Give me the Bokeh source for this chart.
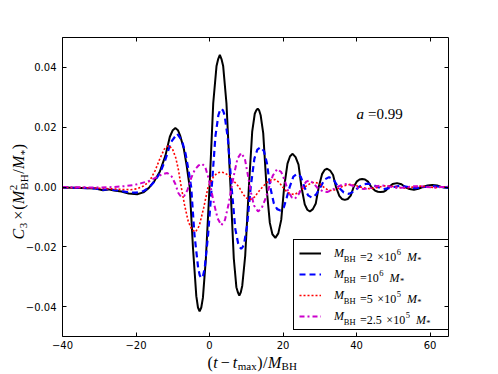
import math
from bokeh.plotting import figure
from bokeh.models import FixedTicker, LinearAxis, Label, Legend, LegendItem, Range1d
from bokeh.embed import file_html
from bokeh.resources import INLINE

# ---------------- data ----------------
t_black = [-40, -35, -31, -29, -27.5, -26, -24, -22, -19.7, -18, -16.5, -15, -13.5, -12, -10.8, -10.0,
           -9.3, -8.6, -8, -7, -6.2, -5.4, -4.5, -3.6, -3.15, -2.7, -2.25, -1.8, -1, 0, 1, 1.9, 2.35, 2.8,
           3.25, 3.7, 4.6, 5.7, 6.6, 7.3, 7.7, 8.1, 8.5, 8.9, 9.7, 10.7, 11.6, 12.3, 12.7, 13.1, 13.5, 13.9,
           14.6, 15.5, 16.4, 17.1, 17.9, 18.7, 19.5, 20.3, 21.2,
           21.9, 22.6, 23.4, 24.2, 25.0, 25.9, 26.6, 27.3, 28.1, 28.9, 29.7, 30.6, 31.3, 32.0, 32.8, 33.6,
           34.4, 35.3, 36.0, 36.8, 37.6, 38.4, 39.2, 40.1, 40.8, 41.5, 42.3, 43.1, 44.0, 45.0, 45.8, 46.5,
           47.3, 48.0, 48.8, 49.8, 51.0, 52.2, 53.2, 54.4, 55.6, 56.8, 58.0, 59.3, 60.6, 61.9, 63.0, 64.0, 65]
c3_black = [-0.0002, -0.0003, -0.0005, -0.0011, -0.0008, -0.0012, -0.0015, -0.0022, -0.0024, -0.0018,
            -0.0003, 0.0020, 0.0052, 0.0105, 0.0168, 0.0190,
            0.0197, 0.0190, 0.0172, 0.0128, 0.0070, 0.0, -0.0205, -0.0365, -0.0403, -0.0416, -0.0403,
            -0.0370, -0.0240, 0.0, 0.0280, 0.0405, 0.0428, 0.0442,
            0.0428, 0.0405, 0.0280, 0.0, -0.0240, -0.0335, -0.0352, -0.0363, -0.0352, -0.0330, -0.0230,
            0.0, 0.0185, 0.0245, 0.0256, 0.0262, 0.0256, 0.0240,
            0.0180, 0.0, -0.0120, -0.0158, -0.0170, -0.0155, -0.0110, 0.0, 0.0078,
            0.0103, 0.0111, 0.0100, 0.0075, 0.0, -0.0058, -0.0076, -0.0082, -0.0074, -0.0055, 0.0, 0.0043,
            0.0057, 0.0061, 0.0055, 0.0040,
            0.0, -0.0030, -0.0040, -0.0043, -0.0040, -0.0029, 0.0, 0.0019, 0.0025, 0.0027, 0.0025, 0.0018,
            0.0, -0.0012, -0.0016, -0.0017,
            -0.0016, -0.0011, 0.0, 0.0010, 0.0013, 0.0009, 0.0, -0.0007, -0.0009, -0.0006, 0.0, 0.0005,
            0.0007, 0.0005, 0.0, -0.0002, -0.0003]

t_blue = [-40, -35, -31, -29, -27.5, -26, -24, -22, -20, -18, -16.5, -15, -13.5, -12, -10.5, -8.8, -7.5,
          -6.5, -5.7, -5.0, -4.1, -3.1, -2.65, -2.2, -1.75, -1.3, -0.4, 0.6, 1.6, 2.4, 2.8, 3.25, 3.7, 4.1,
          5.0, 6.0, 7.0, 7.8, 8.2, 8.6, 9.0, 9.4, 10.2, 11.2, 12.2, 13.0, 13.9, 14.8, 15.6, 16.5, 17.5,
          18.4, 19.3, 20.2, 21.0, 21.8, 22.8,
          23.8, 24.8, 25.8, 26.8, 27.9, 29.0, 30.2, 31.3, 32.5, 33.7, 35.0, 36.5, 37.9, 39.3, 40.6, 41.9,
          43.2, 44.5, 45.7, 47.3, 48.8, 50.2, 52, 54, 56, 58.5, 61, 63, 65]
c3_blue = [-0.0002, -0.0003, -0.0005, -0.0010, -0.0007, -0.0010, -0.0013, -0.0018, -0.0019, -0.0014,
           -0.0002, 0.0018, 0.0046, 0.0092, 0.0150, 0.0178, 0.0155,
           0.0110, 0.0055, 0.0, -0.0160, -0.0270, -0.0296, -0.0305, -0.0296, -0.0270, -0.0160, 0.0,
           0.0170, 0.0240, 0.0255, 0.0262, 0.0255, 0.0240,
           0.0160, 0.0, -0.0140, -0.0190, -0.0201, -0.0207, -0.0201, -0.0190, -0.0130, 0.0, 0.0095,
           0.0125, 0.0133, 0.0120, 0.0080, 0.0, -0.0055,
           -0.0074, -0.0079, -0.0068, -0.0035, 0.0, 0.0035,
           0.0044, 0.0035, 0.0, -0.0028, -0.0036, -0.0025, 0.0, 0.0025, 0.0033, 0.0025, 0.0, -0.0018,
           -0.0023, -0.0015, 0.0, 0.0009,
           0.0011, 0.0007, 0.0, -0.0007, -0.0004, 0.0, 0.0005, 0.0, -0.0004, 0.0, 0.0003, 0.0, -0.0002]

t_red = [-40, -35, -30, -27, -24, -21.5, -19.7, -18, -16.3, -14.8, -13.5, -12.3, -11.2, -10.1, -9.2, -8.5,
         -7.7, -6.8, -5.8, -4.8, -3.8, -2.8, -1.6, -0.4, 1.0, 2.0, 3.0, 4.2, 5.4, 6.7, 8.0, 9.2, 10.2, 11.1,
         12.2, 13.3, 14.4, 15.6, 16.8, 17.8, 18.9, 19.9, 21.0, 22.0, 23.1, 24.3, 25.5, 26.6, 27.8, 28.8,
         30.0, 31.0, 32.2, 33.5, 35.0, 36.5, 38.3, 40.0, 41.5, 43.5, 45.5, 47.5, 49.5, 51.5, 53.5, 55.5,
         57.5, 59.5, 61.5, 63.5, 65]
c3_red = [-0.0002, -0.0002, -0.0004, -0.0006, -0.0008, -0.0009, -0.0006, 0.0003, 0.0020, 0.0055, 0.0095,
          0.0127, 0.0139, 0.0128, 0.0098, 0.0060, 0.0, -0.0060, -0.0115, -0.0143, -0.0150, -0.0130,
          -0.0070, 0.0, 0.0033, 0.0046, 0.0050, 0.0047, 0.0036, 0.0018, 0.0, -0.0026, -0.0038, -0.0042,
          -0.0034, -0.0016, 0.0, 0.0015, 0.0024, 0.0025, 0.0016, 0.0, -0.0016, -0.0023, -0.0025, -0.0017,
          -0.0004, 0.0006, 0.0014, 0.0016, 0.0010, 0.0, -0.0010, -0.0012, -0.0005, 0.0004, 0.0009, 0.0004,
          -0.0002, -0.0006, -0.0002, 0.0004, 0.0003, -0.0002, -0.0004, 0.0, 0.0003, 0.0, -0.0002, 0.0, 0.0001]

t_mag = [-40, -35, -30, -26, -23, -20.5, -18.8, -16.5, -14.5, -12.8, -11.5, -10.3, -9.3, -8.5, -7.8, -6.9,
         -6.0, -5.0, -4.0, -3.0, -2.1, -1.2, -0.4, 0.3, 1.2, 2.2, 3.2, 4.2, 5.2, 6.0, 6.8, 7.6, 8.6, 9.6,
         10.5, 11.2, 12.1, 13.2, 14.2, 15.2, 16.2, 17.2, 18.4, 19.5, 20.5, 21.4, 22.4, 23.2, 24.2, 25.3,
         26.3, 27.2, 28.3, 29.5, 30.8, 32.0, 33.3, 34.8, 36.2, 37.5, 39, 40.5, 42, 43.5, 45, 47, 49, 51,
         53, 55, 57, 59, 61, 63, 65]
c3_mag = [0.0, -0.0001, -0.0002, 0.0, 0.0003, 0.0007, 0.0012, 0.0020, 0.0032, 0.0043, 0.0047, 0.0035,
          0.0010, -0.0020, -0.0032, -0.0030, -0.0010, 0.0030, 0.0058, 0.0072, 0.0078, 0.0068, 0.0035, 0.0,
          -0.0055, -0.0105, -0.0128, -0.0110, -0.0056, 0.0, 0.0050, 0.0095, 0.0114, 0.0095, 0.0035,
          -0.0015, -0.0062, -0.0082, -0.0070, -0.0040, 0.0, 0.0038, 0.0060, 0.0050, 0.0020, -0.0015,
          -0.0035, -0.0040, -0.0025, 0.0, 0.0018, 0.0022, 0.0012, -0.0005, -0.0014, -0.0017, -0.0010, 0.0,
          0.0008, 0.0010, 0.0004, -0.0004, -0.0007, -0.0004, 0.0002, 0.0005, 0.0002, -0.0003, -0.0002,
          0.0002, 0.0003, 0.0, -0.0002, 0.0, 0.0001]

x_ticks = [-40, -20, 0, 20, 40, 60]
x_tick_labels = ["\u221240", "\u221220", "0", "20", "40", "60"]
y_ticks = [-0.04, -0.02, 0.0, 0.02, 0.04]
y_tick_labels = ["\u22120.04", "\u22120.02", "0.00", "0.02", "0.04"]
X_MIN, X_MAX = -40, 65
Y_MIN, Y_MAX = -0.05, 0.05

# ---------------- layout: the drawn box sits inside a full-canvas frame ----------------
W, H = 490, 372
PX_L, PX_R, PY_T, PY_B = 62, 448, 37, 336     # pixel edges of the visible axes box
kx = (PX_R - PX_L) / (X_MAX - X_MIN)
ky = (PY_B - PY_T) / (Y_MAX - Y_MIN)
xr = Range1d(X_MIN - PX_L / kx, X_MAX + (W - PX_R) / kx)
yr = Range1d(Y_MIN - (H - PY_B) / ky, Y_MAX + PY_T / ky)

p = figure(width=W, height=H, x_range=xr, y_range=yr,
           output_backend="svg", toolbar_location=None,
           min_border_left=0, min_border_right=0, min_border_top=0, min_border_bottom=0,
           background_fill_color="white", border_fill_color="white")
p.xgrid.visible = False
p.ygrid.visible = False
p.outline_line_color = None

def style_axis(ax, ticks, labels, loc, bounds):
    ax.fixed_location = loc
    ax.bounds = bounds
    ax.ticker = FixedTicker(ticks=ticks)
    ax.major_tick_in = 4
    ax.major_tick_out = 0
    ax.minor_tick_in = 0
    ax.minor_tick_out = 0
    ax.major_tick_line_color = "black"
    ax.axis_line_color = "black"
    ax.axis_line_width = 1
    ax.major_label_text_font = "DejaVu Sans"
    ax.major_label_text_font_size = "10px"
    ax.major_label_text_color = "black"
    ax.major_label_overrides = {t: l for t, l in zip(ticks, labels)}

style_axis(p.xaxis[0], x_ticks, x_tick_labels, Y_MIN, (X_MIN, X_MAX))
p.xaxis[0].major_label_standoff = 4
style_axis(p.yaxis[0], y_ticks, y_tick_labels, X_MIN, (Y_MIN, Y_MAX))
p.yaxis[0].major_label_standoff = 6

ax_top = LinearAxis()
style_axis(ax_top, x_ticks, [""] * len(x_ticks), Y_MAX, (X_MIN, X_MAX))
p.add_layout(ax_top, "above")
ax_right = LinearAxis()
style_axis(ax_right, y_ticks, [""] * len(y_ticks), X_MAX, (Y_MIN, Y_MAX))
p.add_layout(ax_right, "right")

r1 = p.line(t_black, c3_black, line_color="black", line_width=2)
r2 = p.line(t_blue, c3_blue, line_color="blue", line_width=2.2, line_dash="6 4")
r3 = p.line(t_red, c3_red, line_color="red", line_width=1.6, line_dash="2 2")
r4 = p.line(t_mag, c3_mag, line_color="#cc00cc", line_width=2, line_dash="5 3 2 3")

SERIF = "Liberation Serif"
legend = Legend(items=[LegendItem(label="M", renderers=[r]) for r in (r1, r2, r3, r4)],
                location=(293, H - 330), padding=5, spacing=5,
                glyph_width=22, glyph_height=16, label_height=16, label_width=109,
                label_standoff=13, label_text_font=SERIF, label_text_font_size="12px",
                label_text_font_style="italic", label_text_color="black",
                border_line_color="black", border_line_width=1, border_line_alpha=1,
                background_fill_color="white", background_fill_alpha=0, margin=0)
p.add_layout(legend)

# ---------------- composed math-like texts ----------------
TR = {"(": 333, ")": 333, "/": 278, ".": 250, "=": 564, "\u00d7": 564, "\u2212": 564, "*": 500,
      "B": 667, "H": 722, "m": 778, "a": 444, "x": 500, " ": 250}
for d in "0123456789":
    TR[d] = 500
TI = {"M": 833, "C": 667, "t": 278, "a": 500}

def twidth(s, size, italic):
    tab = TI if italic else TR
    return sum(tab.get(c, 500) for c in s) * size / 1000.0

def add_label(X, Y, txt, size, italic, ang=0.0, align="left", baseline="alphabetic"):
    p.add_layout(Label(x=X, y=H - Y, x_units="screen", y_units="screen", text=txt,
                       text_font=SERIF, text_font_size=f"{size}px",
                       text_font_style="italic" if italic else "normal",
                       text_color="black", text_align=align, text_baseline=baseline,
                       angle=ang))

def compose(pieces, X0, Y0):
    """Horizontal run. pieces: (text, size, italic, shift, gap, advance); pixel coords, top-left origin."""
    cur = 0.0
    for txt, size, italic, shift, gap, adv in pieces:
        cur += gap
        add_label(X0 + cur, Y0 + shift, txt, size, italic)
        if adv:
            cur += twidth(txt, size, italic)

def compose_up(pieces, Xb, Y0):
    """Run rotated 90 deg (reads upward); each piece placed by its centre. Xb = main baseline x."""
    cur = 0.0
    for txt, size, italic, shift, gap, adv in pieces:
        cur += gap
        w = twidth(txt, size, italic)
        cx = Xb + shift - 0.3375 * size
        cy = Y0 - cur - w / 2.0
        add_label(cx, cy, txt, size, italic, ang=math.pi / 2, align="center", baseline="middle")
        if adv:
            cur += w

I, R = True, False
S, s = 12, 8.5
def legend_row(mant, expo, Y):
    pcs = [("BH", s, R, 2.5, 0.3, True), ("=", S, R, 0, 4.5, True)]
    if mant:
        pcs += [(mant, S, R, 0, 0, True), ("\u00d7", S, R, 0, 4.5, True)]
    pcs += [("10", S, R, 0, 0, True), (expo, s, R, -5, 0.5, True),
            ("M", S, I, 0, 6, True), ("*", s, R, 3.5, 0.3, True)]
    compose(pcs, 333 + twidth("M", S, True), Y)

legend_row("2", "6", 256)
legend_row("", "6", 277)
legend_row("5", "5", 298)
legend_row("2.5", "5", 319)

# x-axis label
B, b = 16, 11
compose([("(", B, R, 0, 0, True), ("t", B, I, 0, 0.5, True), ("\u2212", B, R, 0, 3, True),
         ("t", B, I, 0, 3, True), ("max", b, R, 3.5, 0.5, True), (")", B, R, 0, 0.5, True),
         ("/", B, R, 0, 0.5, True), ("M", B, I, 0, 0.5, True), ("BH", b, R, 3.5, 0.3, True)],
        207, 362)

# y-axis label (rotated)
compose_up([("C", B, I, 0, 0, True), ("3", b, R, 3.5, 0.5, True), ("\u00d7", B, R, 0, 3, True),
            ("(", B, R, 0, 1, True), ("M", B, I, 0, 0.5, True), ("2", b, R, -6.5, 0.5, False),
            ("BH", b, R, 3.5, 0.5, True), ("/", B, R, 0, 0.5, True), ("M", B, I, 0, 0.5, True),
            ("*", b, R, 4, 0.3, True), (")", B, R, 0, 0.5, True)],
           23.5, 239)

# spin annotation
compose([("a", 15, I, 0, 0, True), ("=", 15, R, 0, 4, True), ("0.99", 15, R, 0, 0, True)], 356, 113)

open("out.html", "w").write(file_html(p, INLINE))
